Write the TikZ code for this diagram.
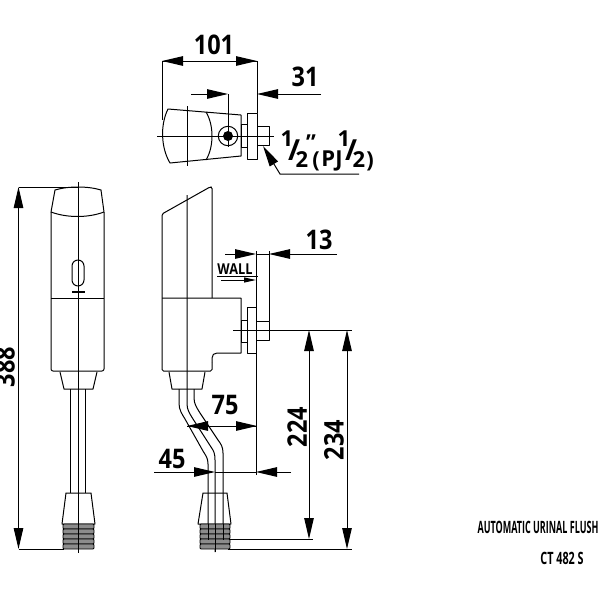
\documentclass[tikz,border=0pt]{standalone}
\usepackage{fontspec}
\setmainfont{Open Sans}
\usetikzlibrary{arrows.meta}
\tikzset{
  dimtext/.style={font=\fontsize{27}{27}\selectfont\bfseries,inner sep=0pt,xscale=0.87,transform shape},
  fractext/.style={font=\fontsize{22}{22}\selectfont\bfseries,inner sep=0pt},
  slashtext/.style={font=\fontsize{29}{29}\selectfont\bfseries,inner sep=0pt},
  titletext/.style={font=\fontsize{17}{17}\selectfont\bfseries,inner sep=0pt,xscale=0.53,transform shape},
  dimtip/.style={-{Triangle[length=21pt,width=9.5pt]}},
  part/.style={line width=1pt,line join=round},
  thread/.style={fill=black!45,draw,line width=0.9pt,rounded corners=1pt}
}
\begin{document}
\begin{tikzpicture}[x=1pt,y=-1pt,line width=1pt]
\useasboundingbox (0,0) rectangle (600,600);
% top view
\coordinate (wa) at (162,61);
\coordinate (wb) at (257,61);
\coordinate (ca) at (228,94);
\coordinate (cb) at (257,94);
\draw[part] (168,109) .. controls (160,125) and (161,148) .. (170,163) -- (241,156) -- (241,115) -- cycle;
\draw[part] (206,112) .. controls (214,125) and (214,147) .. (206,160);
\draw[part] (241,124) rectangle (247,147);
\draw[part] (247,113) rectangle (257,159);
\draw[part] (257,126) rectangle (269,145);
\draw (228,136) circle (9.7);
\fill (228,136) circle (5);
\draw (157,136) -- (274,136);
\draw (187,106) -- (187,166);
\draw (wa) -- (162,120);
\draw (wb) -- (257,113);
\draw (ca) -- (228,147);
\draw[dimtip] (200,61) -- (wa);
\draw[dimtip] (220,61) -- (wb);
\draw (wa) -- (wb);
\draw[dimtip] (191,94) -- (ca);
\draw[dimtip] (321,94) -- (cb);
\node[dimtext] (w101) at (214,45) {101};
\node[dimtext] (w31) at (305,77) {31};
\coordinate (la) at (263,146);
\coordinate (lb) at (280,174);
\coordinate (lc) at (359,174);
\draw[dimtip] (lc) -- (lb) -- (la);
\node[fractext] (fa) at (287,139) {1};
\node[slashtext] (fb) at (294,150) {/};
\node[fractext] (fc) at (302,160) {2};
\node[fractext] (fd) at (311,143) {"};
\node[fractext] (fe) at (316,161) {(};
\node[fractext] (ff) at (332,161) {PJ};
\node[fractext] (fg) at (344,139) {1};
\node[slashtext] (fh) at (351,150) {/};
\node[fractext] (fi) at (359,160) {2};
\node[fractext] (fj) at (370,161) {)};
% front view
\coordinate (ha) at (18.5,187);
\coordinate (hb) at (18.5,549);
\draw[part] (55,190) .. controls (68,186) and (88,186) .. (101,190) -- (104,212) .. controls (88,218) and (67,218) .. (51,212) -- cycle;
\draw[part,rounded corners=2pt] (51,212) -- (51,371) -- (104,371) -- (104,212);
\draw[part] (51,298) -- (104,298);
\draw[part,rounded corners=6pt] (72,260) rectangle (84,286);
\draw[line width=2pt] (72,292) -- (85,292);
\draw[part] (60,372) -- (64,389) -- (93,389) -- (97,372);
\draw[part] (70.5,389) -- (70.5,493);
\draw[part] (85.5,389) -- (85.5,493);
\draw[part] (66,493) -- (91,493) -- (95,524) -- (62,524) -- cycle;
\foreach \y in {524,529,534,539,544}
  \draw[thread] (63,\y) rectangle (94,\y+5);
\draw (78,182) -- (78,553);
\draw (ha) -- (78,187);
\draw (hb) -- (64,549);
\draw[dimtip] (18.5,370) -- (ha);
\draw[dimtip] (18.5,370) -- (hb);
\node[rotate=90,dimtext] (h388) at (5,367) {388};
% side view
\coordinate (ma) at (256,254);
\coordinate (mb) at (269,254);
\coordinate (da) at (187,426);
\coordinate (db) at (257,426);
\coordinate (ea) at (215,472);
\coordinate (eb) at (256,472);
\coordinate (ga) at (309,330);
\coordinate (gb) at (309,539);
\coordinate (ja) at (347,330);
\coordinate (jb) at (347,549);
\draw[part,rounded corners=1.5pt] (212,298) -- (212,187) -- (210,187) -- (162,214) -- (162,371) -- (212,371) -- (212,362);
\draw[part] (212,362) -- (212,358) .. controls (212,355) and (214,353) .. (217,353) -- (241,353) -- (241,298) -- (162,298);
\draw[part] (241,320) rectangle (247,342);
\draw[part] (247,307) rectangle (256,353);
\draw[part] (256,321) rectangle (269,340);
\draw[part] (169,372) -- (172,389) -- (202,389) -- (205,372);
\draw[part] (179,389) -- (179,403) .. controls (179,410) and (182,414) .. (185,419) -- (203,451) .. controls (206,456) and (208,458) .. (208,464) -- (208,540);
\draw[part] (194,389) -- (194,398) .. controls (194,404) and (197,408) .. (200,413) -- (218,440) .. controls (221,444) and (223,447) .. (223,453) -- (223,540);
\draw (187,195) -- (187,404) .. controls (187,410) and (190,414) .. (193,419) -- (211,447) .. controls (214,451) and (215,454) .. (215,460) -- (215,552);
\draw[part] (203,493) -- (227,493) -- (231,524) -- (198,524) -- cycle;
\foreach \y in {524,529,534,539,544}
  \draw[thread] (200,\y) rectangle (230,\y+5);
\draw (208,524) -- (208,540) (223,524) -- (223,540) (215,524) -- (215,552);
\draw (233,330) -- (352,330);
\draw (256,251) -- (256,475);
\draw (269,251) -- (269,321);
\draw[dimtip] (225,254) -- (ma);
\draw[dimtip] (337,254) -- (mb);
\draw (ma) -- (mb);
\node[dimtext] (m13) at (319,240) {13};
\node[inner sep=0pt,font=\fontsize{15}{15}\selectfont\bfseries,xscale=0.85,transform shape] (wall) at (235,269.5) {WALL};
\draw (217,276) -- (258,276);
\draw[-{Triangle[length=12pt,width=5pt]}] (221,280) -- (256,280);
\draw (da) -- (db);
\draw[dimtip] (220,426) -- (da);
\draw[dimtip] (225,426) -- (db);
\node[dimtext] (d75) at (225,405) {75};
\draw[dimtip] (154,472) -- (ea);
\draw[dimtip] (291,472) -- (eb);
\draw (ea) -- (eb);
\node[dimtext] (e45) at (172,459) {45};
\draw (230,539) -- (313,539);
\draw (228,549) -- (352,549);
\draw[dimtip] (309,430) -- (ga);
\draw[dimtip] (309,430) -- (gb);
\draw[dimtip] (347,430) -- (ja);
\draw[dimtip] (347,430) -- (jb);
\node[rotate=90,dimtext] (g224) at (297,427) {224};
\node[rotate=90,dimtext] (j234) at (334,440) {234};
% title
\node[titletext] (title) at (538,527) {AUTOMATIC URINAL FLUSH};
\node[titletext,xscale=1.2] (model) at (562,558) {CT 482 S};
\end{tikzpicture}
\end{document}
